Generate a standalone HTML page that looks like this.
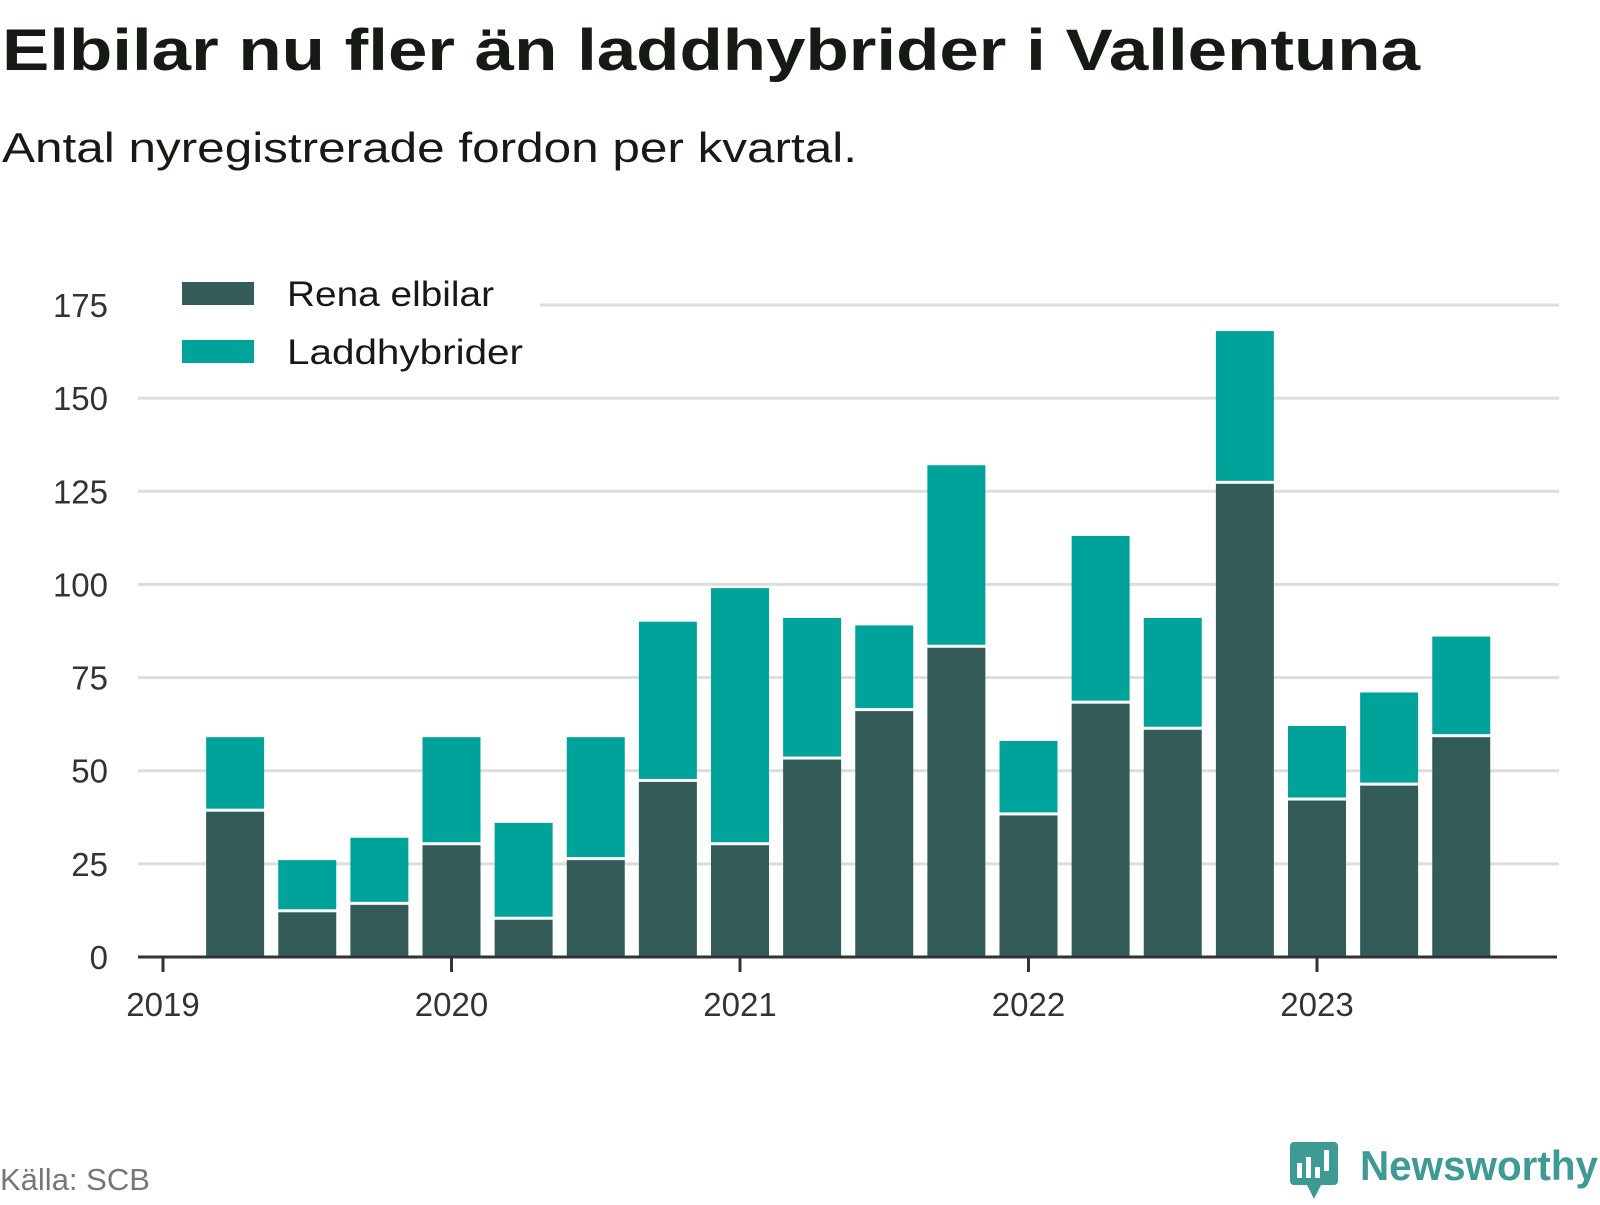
<!DOCTYPE html>
<html><head><meta charset="utf-8"><style>
body{margin:0;background:#fff;width:1600px;height:1200px;overflow:hidden;font-family:"Liberation Sans",sans-serif;}
</style></head><body>
<svg id="chart" width="1600" height="1200" xmlns="http://www.w3.org/2000/svg" font-family="Liberation Sans, DejaVu Sans, sans-serif">
<text x="2" y="70" font-size="58" font-weight="bold" fill="#161a14" textLength="1418" lengthAdjust="spacingAndGlyphs">Elbilar nu fler än laddhybrider i Vallentuna</text>
<text x="2" y="162" font-size="42" fill="#161a14" textLength="855" lengthAdjust="spacingAndGlyphs">Antal nyregistrerade fordon per kvartal.</text>
<g id="grid"></g><g id="bars"></g><g id="axes"></g>
<g>
<rect x="133" y="268" width="407" height="108" fill="#fff"/>
<rect x="182" y="282" width="72" height="23" fill="#335c59"/>
<text x="287" y="306" font-size="35" fill="#161a14" textLength="207" lengthAdjust="spacingAndGlyphs">Rena elbilar</text>
<rect x="182" y="340" width="72" height="23" fill="#00a39a"/>
<text x="287" y="364" font-size="35" fill="#161a14" textLength="236" lengthAdjust="spacingAndGlyphs">Laddhybrider</text>
</g>
<text x="0" y="1190" font-size="31" fill="#777">Källa: SCB</text>
<g>
<rect x="1290" y="1142" width="48" height="43" rx="4" fill="#3d9a94"/>
<polygon points="1306,1183 1322,1183 1314,1199" fill="#3d9a94"/>
<rect x="1297" y="1163" width="5" height="15" fill="#fff"/><rect x="1306" y="1157" width="5" height="21" fill="#fff"/><rect x="1315" y="1167" width="5" height="11" fill="#fff"/><rect x="1324" y="1150" width="5" height="21" fill="#fff"/>
<text x="1360" y="1180" font-size="42" font-weight="bold" fill="#3d9a94" textLength="238" lengthAdjust="spacingAndGlyphs">Newsworthy</text>
</g>
</svg>
<script>
const years=["2019","2020","2021","2022","2023"];
const yTicks=[0,25,50,75,100,125,150,175];
const rena=[39,12,14,30,10,26,47,30,53,66,83,38,68,61,127,42,46,59];
const total=[59,26,32,59,36,59,90,99,91,89,132,58,113,91,168,62,71,86];
const NS="http://www.w3.org/2000/svg";
const y0=957,pxPer=652/175,x0=163,yr=288.5,q=yr/4,bw=58;
const yS=v=>y0-v*pxPer, xS=i=>x0+q*(i+1);
function mk(t,a,p){const e=document.createElementNS(NS,t);for(const k in a)e.setAttribute(k,a[k]);p.appendChild(e);return e;}
const grid=document.getElementById('grid'),bars=document.getElementById('bars'),axes=document.getElementById('axes');
yTicks.forEach(v=>{
 if(v>0){const l=mk('line',{x1:138,x2:1559,y1:yS(v),y2:yS(v),stroke:'#dddddd','stroke-width':3},grid);
 
 }
 const t=mk('text',{x:108,y:yS(v)+12,'font-size':33,'text-anchor':'end',fill:'#333'},axes);t.textContent=v;
 
 
});
rena.forEach((r,i)=>{
 const cx=xS(i);
 const b1=mk('rect',{x:cx-bw/2,y:yS(r),width:bw,height:yS(0)-yS(r),fill:'#335c59'},bars);
 
 
 const b2=mk('rect',{x:cx-bw/2,y:yS(total[i]),width:bw,height:yS(r)-yS(total[i])-3,fill:'#00a39a'},bars);
 
 
});
const ax=mk('line',{x1:138,x2:1557,y1:y0,y2:y0,stroke:'#333','stroke-width':3},axes);


years.forEach((y,k)=>{
 const x=x0+yr*k;
 mk('line',{x1:x,x2:x,y1:y0,y2:y0+15,stroke:'#333','stroke-width':3},axes);
 const t=mk('text',{x:x,y:1016,'font-size':33,'text-anchor':'middle',fill:'#333'},axes);t.textContent=y;
 
 
});
</script>
</body></html>
